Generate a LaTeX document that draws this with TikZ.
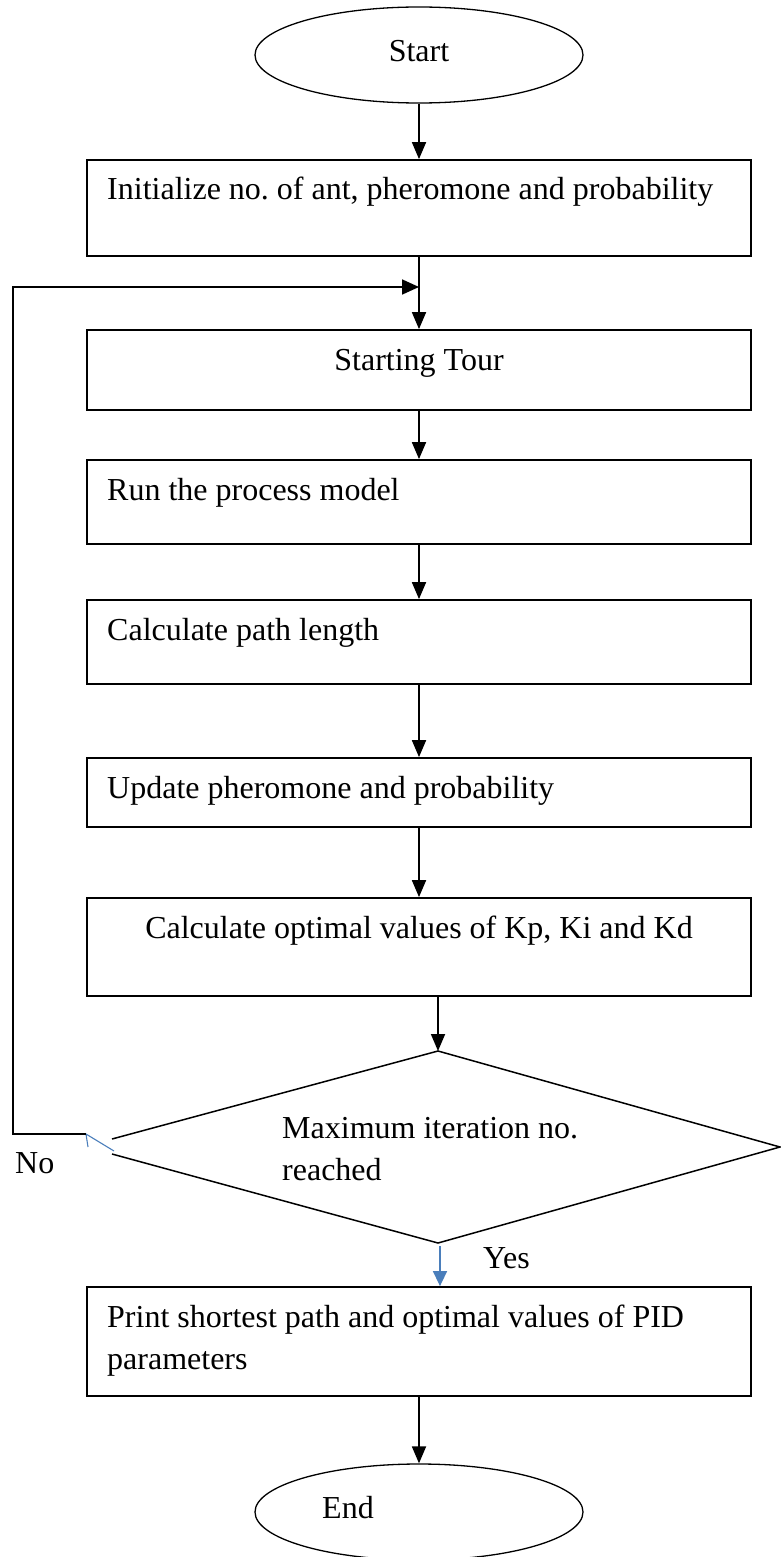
\documentclass[tikz,border=0pt]{standalone}
\usepackage{fontspec}
\setmainfont{Liberation Serif}
\usetikzlibrary{arrows.meta,shapes.geometric}
\definecolor{wordblue}{RGB}{74,126,187}
\frenchspacing
\begin{document}
\begin{tikzpicture}[x=1pt,y=-1pt,
  every node/.style={font=\fontsize{32}{42}\selectfont},
  flowbox/.style={draw,line width=1.8pt,minimum width=664pt,inner sep=0pt},
  terminal/.style={draw,ellipse,line width=1.3pt,minimum width=328pt,minimum height=96pt,inner sep=0pt},
  txt/.style={inner sep=0pt},
  arr/.style={line width=1.8pt,-{Triangle[length=17pt,width=14pt]}},
  bluearr/.style={line width=1.5pt,wordblue,-{Triangle[length=15pt,width=14pt]}},
  plain/.style={line width=1.8pt}]
\useasboundingbox (0,0) rectangle (781,1557);
% terminals
\node[terminal] (start) at (419,55) {};
\node[txt,anchor=base] (tstart) at (419,62) {Start};
\node[terminal] (end) at (419,1512) {};
\node[txt,anchor=base west] (tend) at (322,1518) {End};
% boxes
\node[flowbox,minimum height=96pt] (init) at (419,208) {};
\node[txt,anchor=base west] (tinit) at (107,200) {Initialize no. of ant, pheromone and probability};
\node[flowbox,minimum height=80pt] (tour) at (419,370) {};
\node[txt,anchor=base] (ttour) at (419,370) {Starting Tour};
\node[flowbox,minimum height=84pt] (run) at (419,502) {};
\node[txt,anchor=base west] (trun) at (107,500) {Run the process model};
\node[flowbox,minimum height=84pt] (path) at (419,642) {};
\node[txt,anchor=base west] (tpath) at (107,640) {Calculate path length};
\node[flowbox,minimum height=69pt] (upd) at (419,792.5) {};
\node[txt,anchor=base west] (tupd) at (107,798) {Update pheromone and probability};
\node[flowbox,minimum height=98pt] (opt) at (419,947) {};
\node[txt,anchor=base] (topt) at (419,938) {Calculate optimal values of Kp, Ki and Kd};
\node[flowbox,minimum height=109pt] (print) at (419,1341.5) {};
\node[txt,anchor=base west] (tprint1) at (107,1327) {Print shortest path and optimal values of PID};
\node[txt,anchor=base west] (tprint2) at (107,1369) {parameters};
% decision
\coordinate (dtop) at (438,1051);
\coordinate (dright) at (780,1147);
\coordinate (dbot) at (438,1243);
\coordinate (dlu) at (112,1139);
\coordinate (dll) at (112,1154);
\draw[line width=1.5pt] (dlu) -- (dtop) -- (dright) -- (dbot) -- (dll);
\node[txt,anchor=base west] (tdec1) at (282,1138) {Maximum iteration no.};
\node[txt,anchor=base west] (tdec2) at (282,1180) {reached};
\node[txt,anchor=base west] (tno) at (15,1173) {No};
\node[txt,anchor=base west] (tyes) at (483,1268) {Yes};
% connectors
\coordinate (join) at (419,287);
\draw[arr] (start.south) -- (init.north);
\draw[plain] (init.south) -- (join);
\draw[arr] (join) -- (tour.north);
\draw[arr] (tour.south) -- (run.north);
\draw[arr] (run.south) -- (path.north);
\draw[arr] (path.south) -- (upd.north);
\draw[arr] (upd.south) -- (opt.north);
\draw[arr] (opt.south -| dtop) -- (dtop);
\coordinate (ybeg) at (440,1246);
\draw[bluearr] (ybeg) -- (print.north -| ybeg);
\draw[arr] (print.south) -- (end.north);
% No branch
\coordinate (nbeg) at (114,1151);
\coordinate (ntip) at (86,1134);
\coordinate (nbarb) at (88,1147);
\draw[wordblue,line width=1.1pt] (nbeg) -- (ntip) -- (nbarb);
\coordinate (lc1) at (13,1134);
\coordinate (lc2) at (13,287);
\draw[line width=1.8pt,-{Triangle[length=17pt,width=15pt]}] (ntip) -- (lc1) -- (lc2) -- (join);
\end{tikzpicture}
\end{document}
